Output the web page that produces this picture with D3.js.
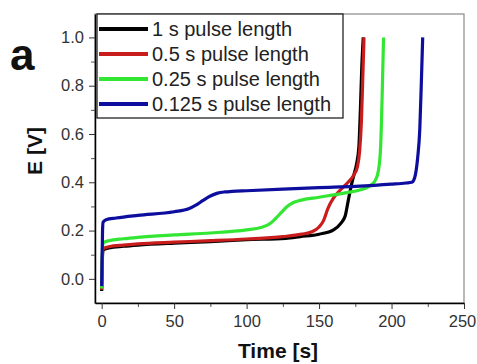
<!DOCTYPE html>
<html>
<head>
<meta charset="utf-8">
<script src="https://cdn.jsdelivr.net/npm/d3@7"></script>
<style>
  body { margin: 0; background: #fff; }
  svg { display: block; font-family: "Liberation Sans", Arial, sans-serif; }
</style>
</head>
<body>
<div id="chart"></div>
<script>
// series names + colours
var seriesNames = ["1 s pulse length", "0.5 s pulse length", "0.25 s pulse length", "0.125 s pulse length"];
var seriesColors = ["#000000", "#c91d1d", "#33e633", "#0d0d9e"];

// 1 s pulse
var t1 = [0, 0.3, 0.6, 1, 5, 15, 25, 50, 75, 100, 127, 137, 150, 160, 165, 168, 170, 172, 174, 176, 177.5, 178.5, 179.5, 180.5];
var e1 = [-0.05, 0.02, 0.10, 0.12, 0.128, 0.135, 0.14, 0.148, 0.154, 0.162, 0.168, 0.175, 0.185, 0.203, 0.23, 0.26, 0.32, 0.38, 0.43, 0.48, 0.55, 0.70, 0.88, 1.0];

// 0.5 s pulse
var t2 = [0, 0.3, 0.6, 1, 5, 15, 25, 50, 75, 100, 125, 138, 145, 150, 153, 156, 160, 165, 170, 174, 176.5, 178, 179.2, 180, 181];
var e2 = [-0.045, 0.03, 0.11, 0.125, 0.133, 0.14, 0.145, 0.152, 0.158, 0.165, 0.175, 0.185, 0.195, 0.215, 0.24, 0.29, 0.335, 0.37, 0.40, 0.43, 0.465, 0.53, 0.65, 0.8, 1.0];

// 0.25 s pulse
var t3 = [0, 0.3, 0.6, 1, 5, 15, 25, 50, 75, 100, 110, 116, 120, 124, 128, 132, 137, 150, 160, 170, 178, 185, 189, 191, 192.5, 193.5, 194.5];
var e3 = [-0.04, 0.05, 0.13, 0.148, 0.158, 0.166, 0.172, 0.182, 0.19, 0.203, 0.213, 0.228, 0.25, 0.275, 0.3, 0.315, 0.325, 0.338, 0.348, 0.358, 0.368, 0.385, 0.41, 0.45, 0.55, 0.75, 1.0];

// 0.125 s pulse
var t4 = [0, 0.3, 0.6, 1, 3, 10, 25, 50, 60, 65, 70, 75, 80, 85, 90, 100, 125, 150, 175, 200, 210, 214, 216, 218, 219.5, 220.5, 221.5];
var e4 = [-0.03, 0.08, 0.2, 0.235, 0.245, 0.252, 0.263, 0.278, 0.29, 0.305, 0.325, 0.343, 0.355, 0.36, 0.362, 0.365, 0.372, 0.378, 0.383, 0.392, 0.397, 0.40, 0.42, 0.5, 0.62, 0.8, 1.0];

var xTicks = [0, 50, 100, 150, 200, 250];
var yTicks = [0.0, 0.2, 0.4, 0.6, 0.8, 1.0];

var svgWidth = 477;
var svgHeight = 364;
var margin = { top: 14, right: 13, bottom: 61, left: 95 };
var width = svgWidth - margin.left - margin.right;
var height = svgHeight - margin.top - margin.bottom;

var svg = d3.select("#chart")
    .append("svg")
    .attr("width", svgWidth)
    .attr("height", svgHeight);

var chartGroup = svg.append("g")
    .attr("transform", `translate(${margin.left}, ${margin.top})`);

var xScale = d3.scaleLinear().domain([-4.6, 250]).range([0, width]);
var yScale = d3.scaleLinear().domain([-0.1, 1.097]).range([height, 0]);

// frame (top + right in grey)
chartGroup.append("rect")
    .attr("x", 0).attr("y", 0)
    .attr("width", width).attr("height", height)
    .attr("fill", "none")
    .attr("stroke", "#8a8a8a")
    .attr("stroke-width", 1.2);

// minor ticks
var xMinor = d3.axisBottom(xScale).tickValues([25, 75, 125, 175, 225]).tickSize(4).tickFormat("");
var yMinor = d3.axisLeft(yScale).tickValues([0.1, 0.3, 0.5, 0.7, 0.9]).tickSize(4).tickFormat("");

chartGroup.append("g").attr("class", "minor")
    .attr("transform", `translate(0, ${height})`).call(xMinor);
chartGroup.append("g").attr("class", "minor").call(yMinor);

var bottomAxis = d3.axisBottom(xScale).tickValues(xTicks).tickSize(6).tickPadding(6).tickSizeOuter(0);
var leftAxis = d3.axisLeft(yScale).tickValues(yTicks).tickSize(6).tickPadding(5)
    .tickFormat(d3.format(".1f")).tickSizeOuter(0);

var xAxisG = chartGroup.append("g")
    .attr("transform", `translate(0, ${height})`)
    .call(bottomAxis);
var yAxisG = chartGroup.append("g").call(leftAxis);

[xAxisG, yAxisG].forEach(function (g) {
    g.select(".domain").attr("stroke", "#000").attr("stroke-width", 1.5);
    g.selectAll(".tick line").attr("stroke", "#333").attr("stroke-width", 1);
    g.selectAll("text").attr("font-size", "16.5px").attr("fill", "#333")
        .attr("font-family", "Liberation Sans, Arial, sans-serif");
});
// last x label sits at the page edge, nudge it in a touch
xAxisG.selectAll(".tick text").filter(d => d === 250).attr("dx", "-2");
chartGroup.selectAll(".minor .domain").remove();
chartGroup.selectAll(".minor line").attr("stroke", "#555");

// curves
var allSeries = [
    t1.map((t, i) => [t, e1[i]]),
    t2.map((t, i) => [t, e2[i]]),
    t3.map((t, i) => [t, e3[i]]),
    t4.map((t, i) => [t, e4[i]])
];

var line = d3.line()
    .x(d => xScale(d[0]))
    .y(d => yScale(d[1]))
    .curve(d3.curveMonotoneX);

chartGroup.selectAll(".curve")
    .data(allSeries)
    .enter()
    .append("path")
    .attr("class", "curve")
    .attr("d", line)
    .attr("fill", "none")
    .attr("stroke", (d, i) => seriesColors[i])
    .attr("stroke-width", 3.2)
    .attr("stroke-linejoin", "round");

// legend
var legend = svg.append("g").attr("transform", "translate(97, 14)");
legend.append("rect")
    .attr("x", 0).attr("y", 0)
    .attr("width", 246).attr("height", 104)
    .attr("fill", "#fff")
    .attr("stroke", "#111")
    .attr("stroke-width", 1.2);

var rows = legend.selectAll(".row")
    .data(seriesNames)
    .enter()
    .append("g")
    .attr("transform", (d, i) => `translate(0, ${15 + i * 25})`);

rows.append("line")
    .attr("x1", 2).attr("x2", 51)
    .attr("y1", 0).attr("y2", 0)
    .attr("stroke", (d, i) => seriesColors[i])
    .attr("stroke-width", 4);

rows.append("text")
    .attr("x", 55)
    .attr("y", 7)
    .attr("font-size", "20px")
    .attr("fill", "#222")
    .text(d => d);

// axis titles
svg.append("text")
    .attr("x", 278)
    .attr("y", 358)
    .attr("text-anchor", "middle")
    .attr("font-weight", "bold")
    .attr("font-size", "21px")
    .attr("fill", "#111")
    .text("Time [s]");

svg.append("text")
    .attr("transform", "translate(42, 151) rotate(-90)")
    .attr("text-anchor", "middle")
    .attr("font-weight", "bold")
    .attr("font-size", "21px")
    .attr("fill", "#111")
    .text("E [V]");

svg.append("text")
    .attr("x", 10)
    .attr("y", 70)
    .attr("font-weight", "bold")
    .attr("font-size", "44px")
    .attr("fill", "#111")
    .text("a");
</script>
</body>
</html>
